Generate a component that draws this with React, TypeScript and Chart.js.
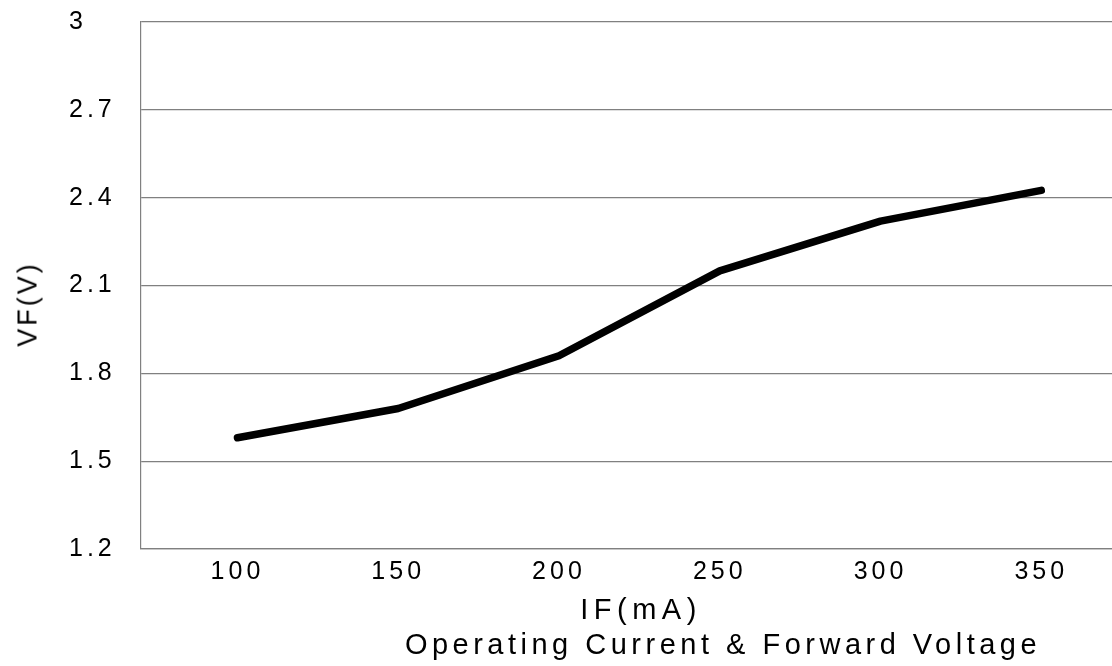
import React, { useEffect, useRef } from 'react';
import { Chart, registerables } from 'chart.js';

Chart.register(...registerables);

const currentValues = [100, 150, 200, 250, 300, 350];
const forwardVoltage = [1.58, 1.68, 1.86, 2.15, 2.32, 2.425];
const currentTicks = [100, 150, 200, 250, 300, 350];
const voltageTicks = [1.2, 1.5, 1.8, 2.1, 2.4, 2.7, 3];
const yAxisTitle = 'VF(V)';
const xAxisTitle = 'IF(mA)';
const chartTitle = 'Operating Current & Forward Voltage';

const FONT = '"Liberation Sans", Arial, sans-serif';

const spacingPlugin = {
  id: 'letterSpacing',
  beforeUpdate(chart: any) {
    chart.ctx.letterSpacing = '4px';
  },
  beforeDraw(chart: any) {
    chart.ctx.letterSpacing = '4px';
  },
};

export default function App() {
  const canvasRef = useRef<HTMLCanvasElement | null>(null);

  useEffect(() => {
    const canvas = canvasRef.current;
    if (!canvas) return;
    const points = currentValues.map((x, i) => ({ x, y: forwardVoltage[i] }));
    const chart = new Chart(canvas, {
      type: 'line',
      data: {
        datasets: [
          {
            data: points,
            borderColor: '#000',
            backgroundColor: '#000',
            borderWidth: 7.5,
            pointRadius: 0,
            borderCapStyle: 'round',
            borderJoinStyle: 'round',
            tension: 0,
            fill: false,
          },
        ],
      },
      options: {
        animation: false,
        responsive: false,
        devicePixelRatio: 1,
        font: { family: FONT },
        layout: { padding: { top: 22, left: 69, right: 0, bottom: 71 } },
        plugins: {
          legend: { display: false },
          tooltip: { enabled: false },
          title: { display: false },
        },
        scales: {
          x: {
            type: 'linear',
            min: 70,
            max: 372,
            afterBuildTicks: (s: any) => {
              s.ticks = currentTicks.map((v) => ({ value: v }));
            },
            grid: { display: false, drawTicks: false, tickLength: 0 },
            border: { display: true, color: '#808080', width: 1.2 },
            ticks: {
              color: '#000',
              font: { family: FONT, size: 25 },
              padding: 8,
              maxRotation: 0,
              autoSkip: false,
              callback: (v: any) => String(v),
            },
            title: { display: false },
          },
          y: {
            type: 'linear',
            min: 1.2,
            max: 3,
            afterBuildTicks: (s: any) => {
              s.ticks = voltageTicks.map((v) => ({ value: v }));
            },
            afterFit: (s: any) => {
              s.width = 72;
            },
            grid: { color: '#808080', lineWidth: 1.2, drawTicks: false, tickLength: 0 },
            border: { display: true, color: '#808080', width: 1.2 },
            ticks: {
              crossAlign: 'far',
              padding: 0,
              color: '#000',
              font: { family: FONT, size: 25 },
              callback: (v: any) => String(v),
            },
            title: { display: false },
          },
        },
      },
      plugins: [spacingPlugin],
    } as any);
    return () => chart.destroy();
  }, []);

  const textBase: React.CSSProperties = {
    position: 'absolute',
    lineHeight: 1,
    whiteSpace: 'nowrap',
  };

  return (
    <div
      style={{
        position: 'absolute',
        left: 0,
        top: 0,
        width: 1112,
        height: 666,
        background: '#fff',
        overflow: 'hidden',
        fontFamily: FONT,
        color: '#000',
      }}
    >
      <canvas ref={canvasRef} width={1112} height={666} style={{ display: 'block', width: 1112, height: 666 }} />
      <div
        style={{
          ...textBase,
          left: 28,
          top: 304,
          transform: 'translate(-50%, -50%) rotate(-90deg)',
          fontSize: 27,
          letterSpacing: '3px',
        }}
      >
        {yAxisTitle}
      </div>
      <div
        style={{
          ...textBase,
          left: 641,
          top: 609,
          transform: 'translate(-50%, -50%)',
          fontSize: 29,
          letterSpacing: '5.5px',
        }}
      >
        {xAxisTitle}
      </div>
      <div
        style={{
          ...textBase,
          left: 723,
          top: 644,
          transform: 'translate(-50%, -50%)',
          fontSize: 29,
          letterSpacing: '4.5px',
        }}
      >
        {chartTitle}
      </div>
    </div>
  );
}
